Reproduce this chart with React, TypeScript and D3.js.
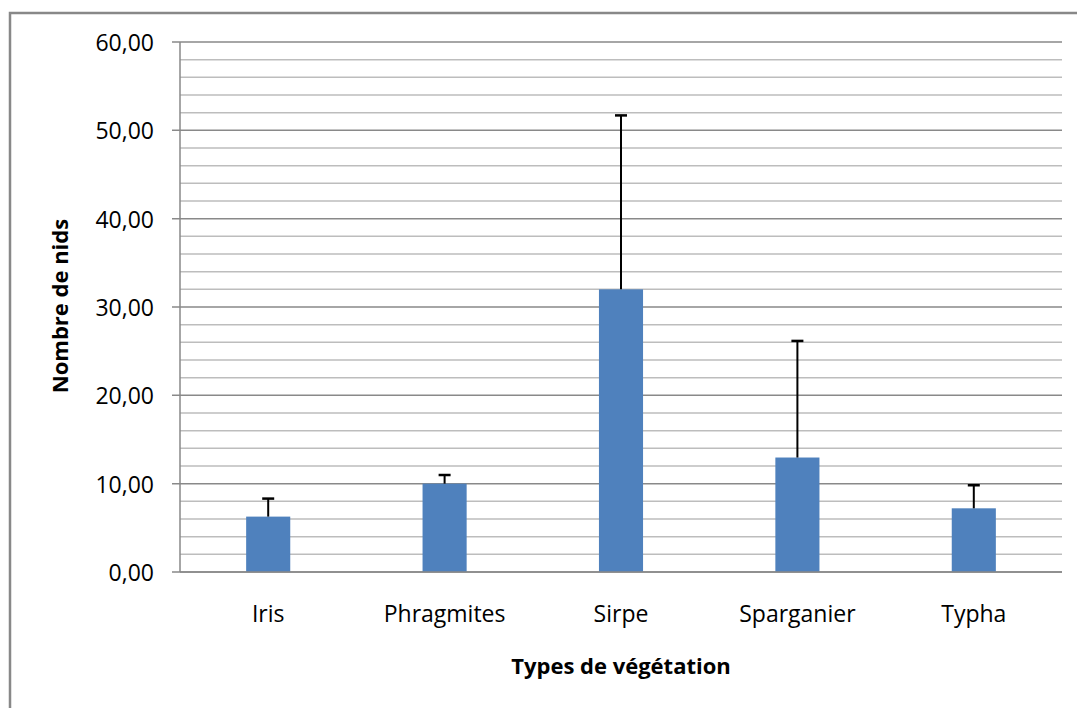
import React, { useEffect } from "react";
import * as d3 from "d3";

// données
const categories = ["Iris", "Phragmites", "Sirpe", "Sparganier", "Typha"];
const means = [6.27, 10.0, 32.0, 12.96, 7.21];
const errTops = [8.31, 10.98, 51.69, 26.16, 9.82];
const yTicks = [0, 10, 20, 30, 40, 50, 60];
const yMinor = [2, 4, 6, 8, 12, 14, 16, 18, 22, 24, 26, 28, 32, 34, 36, 38, 42, 44, 46, 48, 52, 54, 56, 58];

const W = 1077;
const H = 708;
const font = "'Open Sans', sans-serif";

export default function App() {
  useEffect(() => {
    document.body.style.margin = "0";
  }, []);

  const left = 180;
  const right = 1062;
  const top = 42;
  const bottom = 572;

  const x = d3.scaleBand<string>().domain(categories).range([left, right]).padding(0);
  const y = d3.scaleLinear().domain([0, 60]).range([bottom, top]);
  const barW = x.bandwidth() * 0.25;
  const fmt = (v: number) => v.toFixed(2).replace(".", ",");

  return (
    <svg width={W} height={H} style={{ display: "block", background: "#fff" }}>
      {/* cadre */}
      <path d={`M10,${H} V13 H${W}`} fill="none" stroke="#888" strokeWidth={2.5} />

      {/* grille secondaire */}
      {yMinor.map((v) => (
        <line key={"m" + v} x1={left} x2={right} y1={y(v)} y2={y(v)} stroke="#bdbdbd" strokeWidth={1.5} />
      ))}
      {/* grille principale */}
      {yTicks.map((v) => (
        <g key={"t" + v}>
          <line x1={left - 8} x2={right} y1={y(v)} y2={y(v)} stroke="#898989" strokeWidth={1.5} />
          <text
            x={154}
            y={y(v)}
            textAnchor="end"
            dominantBaseline="central"
            fontFamily={font}
            fontSize={23}
            fill="#000"
          >
            {fmt(v)}
          </text>
        </g>
      ))}
      {/* axe vertical */}
      <line x1={left} x2={left} y1={top} y2={bottom} stroke="#898989" strokeWidth={1.5} />

      {/* barres */}
      {categories.map((c, i) => {
        const cx = (x(c) as number) + x.bandwidth() / 2;
        return (
          <g key={c}>
            <rect x={cx - barW / 2} y={y(means[i])} width={barW} height={y(0) - y(means[i])} fill="#4f81bd" />
            <line x1={cx} x2={cx} y1={y(means[i])} y2={y(errTops[i])} stroke="#000" strokeWidth={2} />
            <line x1={cx - 6} x2={cx + 6} y1={y(errTops[i])} y2={y(errTops[i])} stroke="#000" strokeWidth={2.5} />
            <text x={cx} y={622} textAnchor="middle" fontFamily={font} fontSize={23} fill="#000">
              {c}
            </text>
          </g>
        );
      })}
      {/* axe horizontal */}
      <line x1={left} x2={right} y1={bottom} y2={bottom} stroke="#898989" strokeWidth={1.5} />

      {/* titres des axes */}
      <text
        x={(left + right) / 2}
        y={674}
        textAnchor="middle"
        fontFamily={font}
        fontSize={22}
        fontWeight="bold"
        fill="#000"
      >
        Types de végétation
      </text>
      <text
        transform={`translate(68,${306}) rotate(-90)`}
        textAnchor="middle"
        fontFamily={font}
        fontSize={22}
        fontWeight="bold"
        fill="#000"
      >
        Nombre de nids
      </text>
    </svg>
  );
}
